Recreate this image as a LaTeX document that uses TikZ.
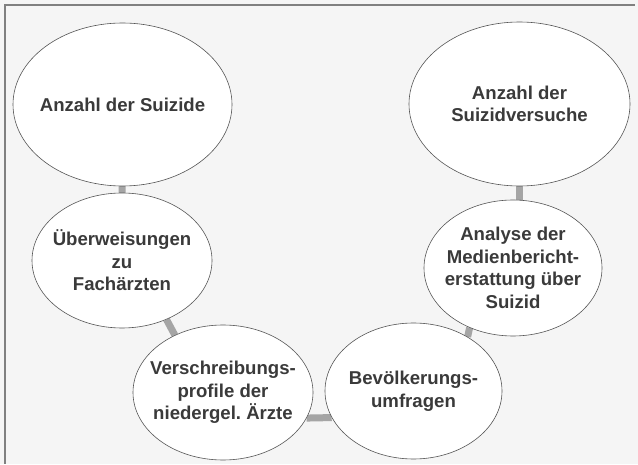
\documentclass[tikz,border=0pt]{standalone}
\usepackage{fontspec}
\setmainfont{Liberation Sans}
\usetikzlibrary{shapes.geometric,backgrounds}
\frenchspacing

\begin{document}
\begin{tikzpicture}[x=1pt,y=1pt,
  oval/.style={ellipse,draw=lineColor,line width=0.6pt,fill=white,inner sep=0pt},
  ovalText/.style={text=textColor,align=center,inner sep=0pt,
    font=\bfseries\fontsize{18.6}{22.5}\selectfont},
  link/.style={draw=linkColor,line width=7pt}]
\definecolor{paperColor}{RGB}{245,245,245}
\definecolor{frameColor}{RGB}{128,128,128}
\definecolor{lineColor}{RGB}{85,85,85}
\definecolor{textColor}{RGB}{58,58,58}
\definecolor{linkColor}{RGB}{165,165,165}
\path[use as bounding box] (0,0) rectangle (638,464);

% the six sources
\node[oval,minimum width=219pt,minimum height=163pt] (suizide) at (122.5,359.5) {};
\node[oval,minimum width=221pt,minimum height=164pt] (versuche) at (519.5,360) {};
\node[oval,minimum width=180pt,minimum height=135pt] (ueberw) at (122,203.5) {};
\node[oval,minimum width=180pt,minimum height=135pt] (rezepte) at (223,71.5) {};
\node[oval,minimum width=177pt,minimum height=136pt] (umfrage) at (413.5,73) {};
\node[oval,minimum width=178pt,minimum height=136pt] (medien) at (513,196) {};

\node[ovalText] (suizideText) at (suizide) {Anzahl der Suizide};
\node[ovalText] (versucheText) at (versuche) {Anzahl der\\Suizidversuche};
\node[ovalText] (ueberwText) at (ueberw) {Überweisungen\\zu\\Fachärzten};
\node[ovalText] (rezepteText) at (rezepte) {Verschreibungs-\\profile der\\niedergel. Ärzte};
\node[ovalText] (umfrageText) at (umfrage) {Bevölkerungs-\\umfragen};
\node[ovalText] (medienText) at (medien) {Analyse der\\Medienbericht-\\erstattung über\\Suizid};

\begin{scope}[on background layer]
\fill[paperColor] (0,0) rectangle (638,464);
\draw[frameColor,line width=1.4pt] (5,0) -- (5,459) -- (635,459);

% grey links behind the ovals
\path[link] (suizide.center) -- (ueberw.center);
\path[link] (ueberw.-53.6) -- (rezepte.130);
\path[link] (rezepte.-17) -- (umfrage.198);
\path[link] (umfrage.45.5) -- (medien.234.6);
\path[link] (versuche.south) -- (versuche.south |- medien.center);
\end{scope}
\end{tikzpicture}
\end{document}
